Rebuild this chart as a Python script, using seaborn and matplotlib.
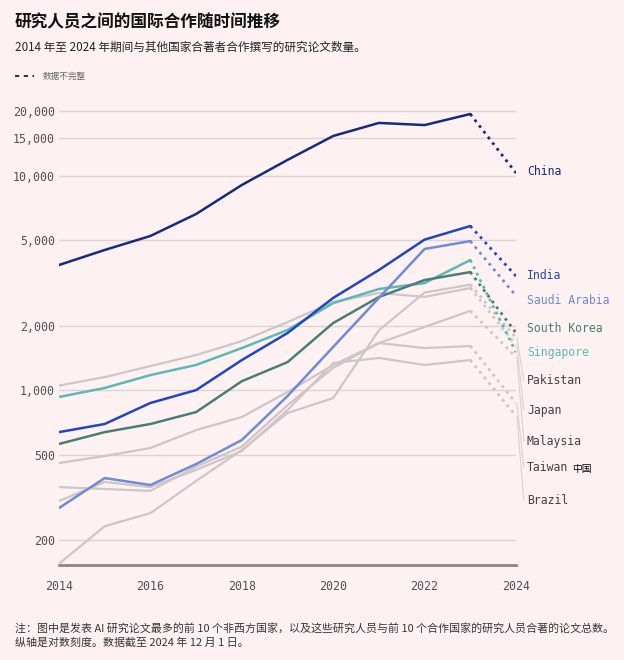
import matplotlib
matplotlib.use("Agg")
import matplotlib.pyplot as plt
import matplotlib.ticker as mticker
import numpy as np
import pandas as pd
import seaborn as sns

# ---------------- data ----------------
years = list(range(2014, 2025))
countries = ["China", "India", "Saudi Arabia", "South Korea", "Singapore",
             "Pakistan", "Japan", "Malaysia", "Taiwan", "Brazil"]
china = [3830, 4500, 5230, 6620, 9040, 11830, 15300, 17600, 17200, 19370, 10280]
india = [637, 695, 871, 1000, 1380, 1845, 2690, 3630, 5030, 5820, 3400]
saudi_arabia = [282, 389, 361, 452, 585, 938, 1590, 2690, 4550, 4950, 2750]
south_korea = [561, 637, 695, 790, 1100, 1350, 2055, 2715, 3260, 3550, 1850]
singapore = [929, 1023, 1175, 1310, 1570, 1905, 2545, 2960, 3155, 4040, 1500]
pakistan = [155, 232, 267, 377, 526, 782, 918, 1900, 2850, 3100, 1750]
japan = [1050, 1150, 1295, 1457, 1693, 2075, 2575, 2835, 2720, 2990, 1620]
malaysia = [457, 493, 537, 651, 749, 980, 1310, 1657, 1970, 2340, 1425]
taiwan = [353, 346, 339, 440, 545, 850, 1270, 1657, 1570, 1605, 870]
brazil = [304, 373, 353, 425, 520, 807, 1337, 1412, 1310, 1380, 757]
series = [china, india, saudi_arabia, south_korea, singapore,
          pakistan, japan, malaysia, taiwan, brazil]

y_ticks = [200, 500, 1000, 2000, 5000, 10000, 15000, 20000]
x_ticks = [2014, 2016, 2018, 2020, 2022, 2024]

title = "研究人员之间的国际合作随时间推移"
subtitle = "2014 年至 2024 年期间与其他国家合著者合作撰写的研究论文数量。"
legend_text = "数据不完整"
note_lines = ["注：图中是发表 AI 研究论文最多的前 10 个非西方国家，以及这些研究人员与前 10 个合作国家的研究人员合著的论文总数。",
              "纵轴是对数刻度。数据截至 2024 年 12 月 1 日。"]

# ---------------- styles / positions ----------------
colors = {"China": "#172a80", "India": "#2244c4", "Saudi Arabia": "#7189d8",
          "South Korea": "#4b7d78", "Singapore": "#5cb8b6"}
gray = "#cdc6c6"
label_pos = [10400, 3440, 2630, 1947, 1504, 1114, 807, 579, 438, 307]

rows = []
for c, vals in zip(countries, series):
    for y, v in zip(years, vals):
        rows.append({"country": c, "year": y, "value": v})
df = pd.DataFrame(rows)

sns.set_style("white")
bg = "#fdf2f1"
plt.rcParams["font.family"] = ["Noto Sans CJK SC", "DejaVu Sans"]
mono = "DejaVu Sans Mono"

fig = plt.figure(figsize=(6.24, 6.6), dpi=100, facecolor=bg)
ax = fig.add_axes([59 / 624, 95 / 660, (516 - 59) / 624, 467 / 660], facecolor=bg)

order = countries[5:] + countries[:5][::-1]
for c in order:
    sub = df[df.country == c]
    solid = sub[sub.year <= 2023]
    dash = sub[sub.year >= 2023]
    col = colors.get(c, gray)
    z = 3 if c in colors else 2
    lw = 1.8 if c in colors else 1.6
    sns.lineplot(data=solid, x="year", y="value", color=col, lw=lw, ax=ax,
                 zorder=z, legend=False, estimator=None)
    sns.lineplot(data=dash, x="year", y="value", color=col, lw=2.0, ax=ax,
                 zorder=z, legend=False, estimator=None, linestyle=(0, (1.0, 1.6)))

ax.set_yscale("log")
ax.set_ylim(153, 23000)
ax.set_xlim(2014, 2024)
ax.set_yticks(y_ticks)
ax.yaxis.set_minor_locator(mticker.NullLocator())
ax.set_yticklabels([f"{t:,}" for t in y_ticks], family=mono)
ax.set_xticks(x_ticks)
ax.set_xticklabels([str(t) for t in x_ticks], family=mono)
ax.set_xlabel("")
ax.set_ylabel("")
ax.grid(axis="y", color="#dcd3d3", lw=1.0, zorder=0)
ax.grid(axis="x", visible=False)
ax.tick_params(axis="y", length=0, pad=3, labelsize=8.4, labelcolor="#555050")
ax.tick_params(axis="x", length=5, width=1, color="#d3cbcb", pad=6,
               labelsize=8.4, labelcolor="#555050")
for s in ["left", "right", "top"]:
    ax.spines[s].set_visible(False)
ax.spines["bottom"].set_color("#8e8484")
ax.spines["bottom"].set_linewidth(2)
ax.spines["bottom"].set_zorder(1)

# right-hand labels
for c, vals, lp in zip(countries, series, label_pos):
    col = colors.get(c, "#444040")
    ax.text(2024.24, lp, c, color=col, family=mono, fontsize=8.3,
            va="center", ha="left", clip_on=False, weight="normal")
    if c not in colors:
        ax.plot([2024.02, 2024.17], [vals[-1], lp], color="#d9d1d1", lw=0.8,
                clip_on=False, zorder=1)
ax.text(2025.23, 429, "中国", color="black", fontsize=7, va="center",
        ha="left", clip_on=False)

# header
fig.text(15 / 624, 1 - 22 / 660, title, fontsize=12, weight="bold",
         va="center", ha="left", color="#111")
fig.text(15 / 624, 1 - 47 / 660, subtitle, fontsize=8.4, va="center",
         ha="left", color="#222")
fig.add_artist(plt.Line2D([15 / 624, 34 / 624], [1 - 76 / 660, 1 - 76 / 660],
                          color="#333", lw=1.5, linestyle=(0, (2.0, 2.2))))
fig.text(43 / 624, 1 - 76 / 660, legend_text, fontsize=6.2, va="center",
         ha="left", color="#666")

# notes
fig.text(15 / 624, 1 - 628 / 660, note_lines[0], fontsize=7.9, va="center",
         ha="left", color="#333")
fig.text(15 / 624, 1 - 643 / 660, note_lines[1], fontsize=7.9, va="center",
         ha="left", color="#333")

fig.savefig("out.png", dpi=100, facecolor=bg)
